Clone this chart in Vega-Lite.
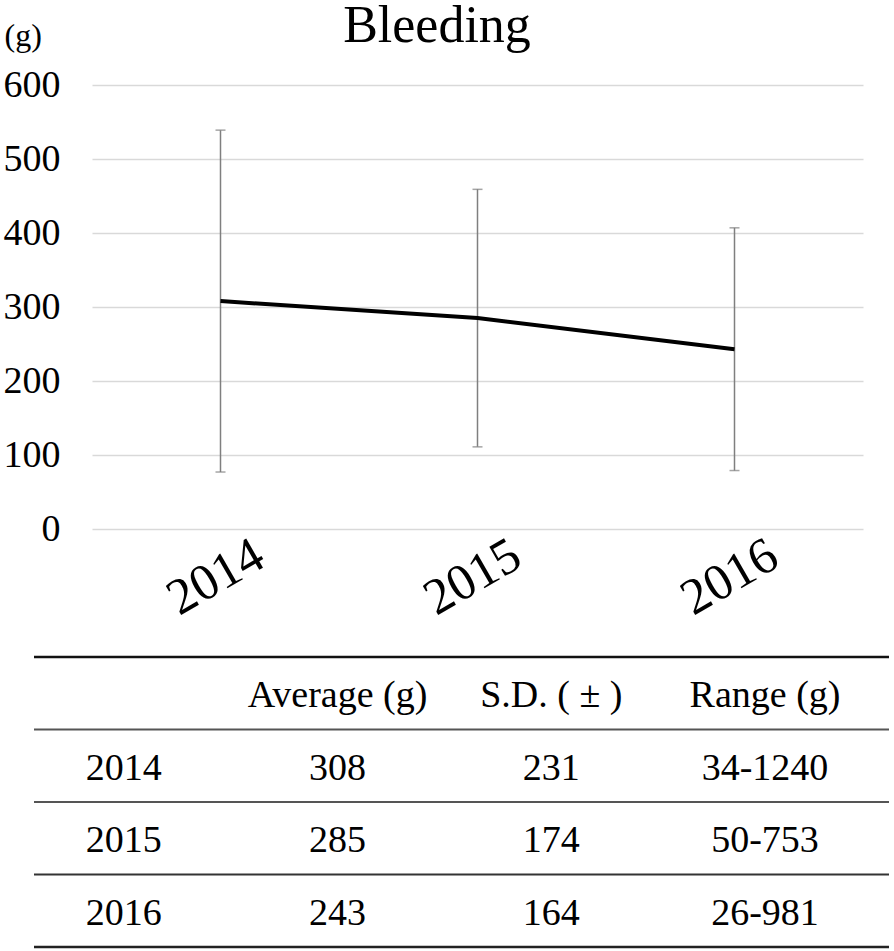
{
  "$schema": "https://vega.github.io/schema/vega-lite/v6.json",
  "background": "white",
  "padding": {"left": 3, "top": 0, "right": 0, "bottom": 0},
  "spacing": 30,
  "config": {
    "view": {"stroke": null},
    "font": "Liberation Serif",
    "text": {"font": "Liberation Serif", "color": "black"}
  },
  "datasets": {
    "stats": [
      {"year": "2014", "mean": 308, "sd": 231, "range": "34-1240"},
      {"year": "2015", "mean": 285, "sd": 174, "range": "50-753"},
      {"year": "2016", "mean": 243, "sd": 164, "range": "26-981"}
    ],
    "cols": [
      {"key": "year", "head": ""},
      {"key": "mean", "head": "Average (g)"},
      {"key": "sd", "head": "S.D. ( ± )"},
      {"key": "range", "head": "Range (g)"}
    ]
  },
  "vconcat": [
    {
      "bounds": "flush",
      "spacing": 0,
      "hconcat": [
        {
          "width": 58,
          "height": 444,
          "data": {"values": []},
          "mark": "point"
        },
        {
          "width": 771,
          "height": 444,
          "title": {"text": "Bleeding", "fontSize": 52, "font": "Liberation Serif", "fontWeight": "normal", "color": "black", "anchor": "middle", "frame": "bounds", "offset": -34, "dx": 4},
          "data": {"name": "stats"},
          "encoding": {
            "x": {
              "field": "year", "type": "ordinal",
              "scale": {"type": "point", "padding": 0.5},
              "axis": {"title": null, "labelAngle": -30, "labelAlign": "center", "labelBaseline": "middle", "labelFontSize": 51, "labelFont": "Liberation Serif", "labelColor": "black", "labelPadding": 48, "labelOffset": -5, "ticks": false, "domain": false, "grid": false, "labelOverlap": false, "labelBound": false}
            },
            "y": {
              "field": "mean", "type": "quantitative",
              "scale": {"domain": [0, 600], "nice": false, "zero": true},
              "axis": {"title": "(g)", "titleAngle": 0, "titleAlign": "left", "titleBaseline": "alphabetic", "titleX": -88, "titleY": -40, "titleFontSize": 32, "titleFont": "Liberation Serif", "titleFontWeight": "normal", "titleColor": "black", "values": [0, 100, 200, 300, 400, 500, 600], "labelFontSize": 38, "labelFont": "Liberation Serif", "labelColor": "black", "labelPadding": 32, "ticks": false, "domain": false, "gridColor": "#d9d9d9", "gridWidth": 1.5}
            }
          },
          "layer": [
            {"mark": {"type": "errorbar", "ticks": true, "size": 10, "thickness": 1.5, "color": "#7f7f7f"}, "encoding": {"yError": {"field": "sd"}}},
            {"mark": {"type": "line", "color": "black", "strokeWidth": 4}}
          ]
        }
      ]
    },
    {
      "width": 855,
      "height": 290,
      "layer": [
        {
          "data": {"name": "cols"},
          "transform": [{"filter": "datum.key === 'year'"}],
          "mark": {"type": "rule", "strokeWidth": 2.5, "color": "#111111"},
          "encoding": {"y": {"datum": "h", "type": "nominal", "bandPosition": 0, "scale": {"type": "band", "domain": ["h", "2014", "2015", "2016"], "paddingInner": 0, "paddingOuter": 0}, "axis": null}}
        },
        {
          "data": {"name": "stats"},
          "transform": [{"filter": "datum.year !== '2016'"}],
          "mark": {"type": "rule", "strokeWidth": 2, "color": "#555555"},
          "encoding": {"y": {"field": "year", "type": "nominal", "bandPosition": 0}}
        },
        {
          "data": {"name": "stats"},
          "transform": [{"filter": "datum.year === '2016'"}],
          "mark": {"type": "rule", "strokeWidth": 2, "color": "#333333"},
          "encoding": {"y": {"field": "year", "type": "nominal", "bandPosition": 0}}
        },
        {
          "data": {"name": "stats"},
          "transform": [{"filter": "datum.year === '2016'"}],
          "mark": {"type": "rule", "strokeWidth": 2.5, "color": "#222222"},
          "encoding": {"y": {"field": "year", "type": "nominal", "bandPosition": 1}}
        },
        {
          "data": {"name": "cols"},
          "transform": [{"filter": "datum.key !== 'year'"}],
          "mark": {"type": "text", "fontSize": 38, "font": "Liberation Serif", "color": "black", "align": "center", "baseline": "middle", "dy": 3},
          "encoding": {
            "x": {"field": "key", "type": "nominal", "scale": {"type": "point", "domain": ["year", "mean", "sd", "range"], "padding": 0.5, "align": 0.42}, "axis": null},
            "y": {"datum": "h", "type": "nominal"},
            "text": {"field": "head"}
          }
        },
        {
          "data": {"name": "stats"},
          "transform": [{"fold": ["year", "mean", "sd", "range"], "as": ["key", "value"]}],
          "mark": {"type": "text", "fontSize": 38, "font": "Liberation Serif", "color": "black", "align": "center", "baseline": "middle", "dy": 3},
          "encoding": {
            "x": {"field": "key", "type": "nominal"},
            "y": {"field": "year", "type": "nominal"},
            "text": {"field": "value"}
          }
        }
      ]
    }
  ]
}
